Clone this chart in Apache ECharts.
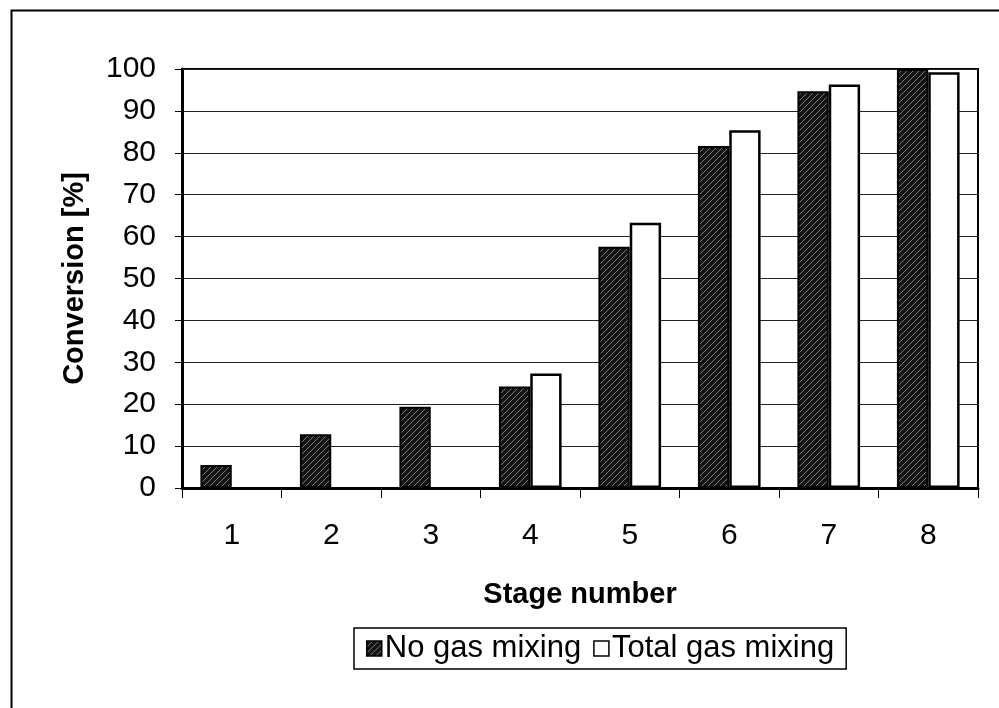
<!DOCTYPE html>
<html>
<head>
<meta charset="utf-8">
<script src="https://cdn.jsdelivr.net/npm/echarts@6/dist/echarts.min.js"></script>
<style>
html,body{margin:0;padding:0;background:#fff;}
#c{width:999px;height:708px;}
</style>
</head>
<body>
<div id="c"></div>
<script>
const categories = ['1','2','3','4','5','6','7','8'];
const noGasMixing = [5.5, 12.8, 19.4, 24.2, 57.6, 81.6, 94.7, 100];
const totalGasMixing = [null, null, null, 27.3, 63.3, 85.4, 96.3, 99.2];
const yTicks = [0,10,20,30,40,50,60,70,80,90,100];

function hatch(){
  const c = document.createElement('canvas');
  c.width = 6; c.height = 6;
  const g = c.getContext('2d');
  g.fillStyle = '#141414';
  g.fillRect(0,0,6,6);
  g.strokeStyle = '#7a7a7a';
  g.lineWidth = 1;
  g.beginPath();
  g.moveTo(0,6); g.lineTo(6,0);
  g.moveTo(-3,3); g.lineTo(3,-3);
  g.moveTo(3,9); g.lineTo(9,3);
  g.stroke();
  return c;
}
const hatchFill = {image: hatch(), repeat: 'repeat'};
const font = "'Liberation Sans', Arial, sans-serif";

const chart = echarts.init(document.getElementById('c'), null, {renderer:'canvas'});
chart.setOption({
  animation: false,
  backgroundColor: '#fff',
  textStyle: {fontFamily: font},
  graphic: [{
    type: 'rect', left: 9, top: 8,
    shape: {width: 1100, height: 800},
    style: {fill: 'none', stroke: '#000', lineWidth: 2},
    silent: true, z: -1
  }],
  grid: {left: 182, right: 21, top: 69, bottom: 220, show: true, borderColor: '#000', borderWidth: 2, backgroundColor: 'transparent'},
  legend: {
    left: 354, top: 628,
    itemWidth: 15, itemHeight: 15, itemGap: 12,
    padding: [5, 12, 5, 12],
    borderColor: '#000', borderWidth: 1.5, borderRadius: 0,
    textStyle: {fontSize: 31, color: '#000', fontFamily: font, padding: [0,0,0,-2]},
    data: [
      {name: 'No gas mixing', icon: 'rect', itemStyle: {color: hatchFill, borderColor: '#000', borderWidth: 1.5}},
      {name: 'Total gas mixing', icon: 'rect', itemStyle: {color: '#fff', borderColor: '#000', borderWidth: 1.5}}
    ]
  },
  xAxis: {
    type: 'category', data: categories,
    name: 'Stage number', nameLocation: 'middle', nameGap: 92,
    nameTextStyle: {fontSize: 29, fontWeight: 'bold', color: '#000', fontFamily: font},
    axisLine: {lineStyle: {color: '#000', width: 3}},
    axisTick: {show: true, length: 10, lineStyle: {color: '#000', width: 1}},
    axisLabel: {fontSize: 30, color: '#000', margin: 33, fontFamily: font}
  },
  yAxis: {
    type: 'value', min: 0, max: 100, interval: 10,
    name: 'Conversion [%]', nameLocation: 'middle', nameGap: 93,
    nameTextStyle: {fontSize: 29, fontWeight: 'bold', color: '#000', fontFamily: font},
    axisLine: {show: true, lineStyle: {color: '#000', width: 3}},
    axisTick: {show: true, length: 7, lineStyle: {color: '#000', width: 1}},
    axisLabel: {fontSize: 30, color: '#000', margin: 26, fontFamily: font,
      formatter: v => yTicks.includes(v) ? String(v) : ''},
    splitLine: {show: true, lineStyle: {color: '#222', width: 1}}
  },
  series: [
    {name: 'No gas mixing', type: 'bar', data: noGasMixing, barGap: '0%', barCategoryGap: '37%',
     itemStyle: {color: hatchFill, borderColor: '#000', borderWidth: 2}},
    {name: 'Total gas mixing', type: 'bar', data: totalGasMixing, barGap: '0%', barCategoryGap: '37%',
     itemStyle: {color: '#fff', borderColor: '#000', borderWidth: 2.5}}
  ]
});
</script>
</body>
</html>
